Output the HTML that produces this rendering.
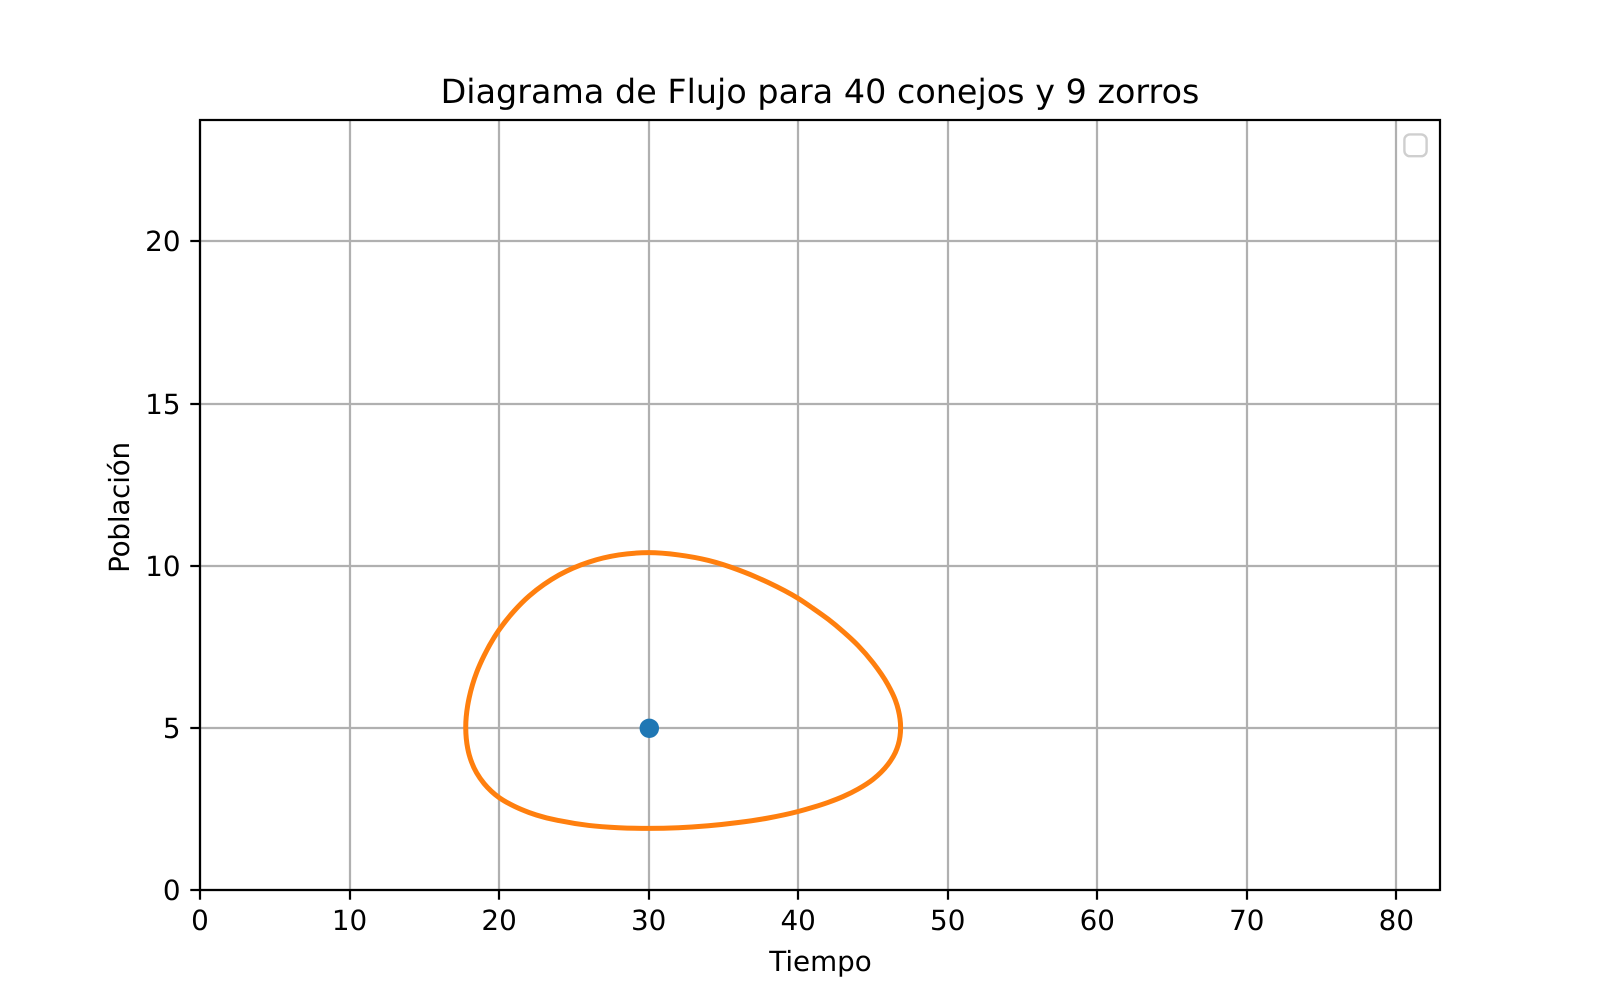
<!DOCTYPE html>
<html lang="es">
<head>
<meta charset="utf-8">
<title>Diagrama de Flujo para 40 conejos y 9 zorros</title>
<style>
html,body{margin:0;padding:0;background:#fff;width:1600px;height:1000px;overflow:hidden}
svg{display:block}
text{font-family:"DejaVu Sans","Liberation Sans",sans-serif;fill:#000;text-rendering:geometricPrecision}
</style>
</head>
<body>
<svg id="chart" xmlns="http://www.w3.org/2000/svg" width="1600" height="1000" viewBox="0 0 1600 1000">
  <rect x="0" y="0" width="1600" height="1000" fill="#ffffff"/>
  <g id="grid"></g>
  <g id="series"></g>
  <rect x="1404.4" y="134.4" width="22.2" height="21.8" rx="5.5" ry="5.5" fill="#ffffff" fill-opacity="0.8" stroke="#cccccc" stroke-opacity="0.95" stroke-width="2.4"/>
  <rect x="200" y="120" width="1240" height="770" fill="none" stroke="#000000" stroke-width="2.22"/>
  <g id="ticks"></g>
  <text x="820" y="103" text-anchor="middle" font-size="33.33" letter-spacing="0.035">Diagrama de Flujo para 40 conejos y 9 zorros</text>
  <text x="820.5" y="971" text-anchor="middle" font-size="27.78">Tiempo</text>
  <text transform="translate(129 507.5) rotate(-90)" text-anchor="middle" font-size="27.78" letter-spacing="-0.2">Población</text>
</svg>
<script>
const xTicks = [0, 10, 20, 30, 40, 50, 60, 70, 80];
const yTicks = [0, 5, 10, 15, 20];
const xMax = 82.92;
const yMax = 23.74;
const equilibriumX = [30];
const equilibriumY = [5];
const orbitX = [17.77, 17.9, 18, 18.5, 19, 20, 21, 22, 23, 24, 26, 28, 30, 32, 34, 36, 38, 40, 41, 42, 43, 44, 45, 46, 46.5, 46.7, 46.85, 46.7, 46.5, 46, 45, 44, 43, 42, 41, 40, 38, 36, 34, 32, 30, 28, 26, 24, 23, 22, 21, 20, 19, 18.5, 18, 17.9];
const orbitY = [5, 5.69, 5.93, 6.71, 7.23, 8.02, 8.60, 9.06, 9.42, 9.71, 10.11, 10.33, 10.40, 10.33, 10.16, 9.87, 9.48, 8.99, 8.68, 8.35, 7.97, 7.54, 7.01, 6.33, 5.85, 5.55, 5, 4.49, 4.24, 3.87, 3.41, 3.11, 2.88, 2.70, 2.55, 2.42, 2.22, 2.08, 1.98, 1.92, 1.90, 1.92, 1.99, 2.14, 2.244, 2.39, 2.585, 2.85, 3.28, 3.61, 4.17, 4.37];

const NS = 'http://www.w3.org/2000/svg';
const plotLeft = 200, plotRight = 1440, plotTop = 120, plotBottom = 890;
function xScale(v) { return plotLeft + (v / xMax) * (plotRight - plotLeft); }
function yScale(v) { return plotBottom - (v / yMax) * (plotBottom - plotTop); }
function snap(v) { return Math.round(v + 0.05); }
function make(tag, attrs, parent) {
  const el = document.createElementNS(NS, tag);
  for (const k in attrs) el.setAttribute(k, attrs[k]);
  parent.appendChild(el);
  return el;
}
const gridG = document.getElementById('grid');
const tickG = document.getElementById('ticks');
const seriesG = document.getElementById('series');

xTicks.forEach(function (t) {
  const px = snap(xScale(t));
  const g = make('line', {x1: px, x2: px, y1: plotTop, y2: plotBottom, stroke: '#b0b0b0', 'stroke-width': 2.22}, gridG);
  
  
  const m = make('line', {x1: px, x2: px, y1: plotBottom, y2: plotBottom + 9.72, stroke: '#000', 'stroke-width': 2.22}, tickG);
  
  
  const l = make('text', {x: xScale(t), y: 930, 'text-anchor': 'middle', 'font-size': 27.78}, tickG);
  
  
  l.textContent = String(t);
});

yTicks.forEach(function (t) {
  const py = snap(yScale(t));
  const g = make('line', {x1: plotLeft, x2: plotRight, y1: py, y2: py, stroke: '#b0b0b0', 'stroke-width': 2.22}, gridG);
  
  
  const m = make('line', {x1: plotLeft - 9.72, x2: plotLeft, y1: py, y2: py, stroke: '#000', 'stroke-width': 2.22}, tickG);
  
  
  const l = make('text', {x: 180.5, y: py + 10.1, 'text-anchor': 'end', 'font-size': 27.78}, tickG);
  
  
  l.textContent = String(t);
});

const eqMarker = make('circle', {cx: snap(xScale(equilibriumX[0])) + 0.3, cy: snap(yScale(equilibriumY[0])) + 0.3, r: 8.33, fill: '#1f77b4', stroke: '#1f77b4', 'stroke-width': 2.78}, seriesG);



function chord(a, b) { return Math.hypot(b[0] - a[0], b[1] - a[1]); }
function orbitPath() {
  const n = orbitX.length;
  const pts = orbitX.map(function (v, i) { return [xScale(v), yScale(orbitY[i])]; });
  const tangents = pts.map(function (p, i) {
    const a = pts[(i - 1 + n) % n], b = pts[(i + 1) % n];
    const d0 = chord(a, p), d1 = chord(p, b);
    return [0, 1].map(function (k) {
      return (((p[k] - a[k]) / d0) * d1 + ((b[k] - p[k]) / d1) * d0) / (d0 + d1);
    });
  });
  let d = 'M' + pts[0][0].toFixed(2) + ' ' + pts[0][1].toFixed(2);
  for (let i = 0; i < n; i++) {
    const j = (i + 1) % n;
    const p1 = pts[i], p2 = pts[j], len = chord(p1, p2) / 3;
    const c1x = p1[0] + tangents[i][0] * len, c1y = p1[1] + tangents[i][1] * len;
    const c2x = p2[0] - tangents[j][0] * len, c2y = p2[1] - tangents[j][1] * len;
    d += 'C' + c1x.toFixed(2) + ' ' + c1y.toFixed(2) + ' ' + c2x.toFixed(2) + ' ' + c2y.toFixed(2) + ' ' + p2[0].toFixed(2) + ' ' + p2[1].toFixed(2);
  }
  return d + 'Z';
}
const orbit = make('path', {d: orbitPath(), fill: 'none', stroke: '#ff7f0e', 'stroke-width': 5, 'stroke-linejoin': 'round'}, seriesG);


</script>
</body>
</html>
